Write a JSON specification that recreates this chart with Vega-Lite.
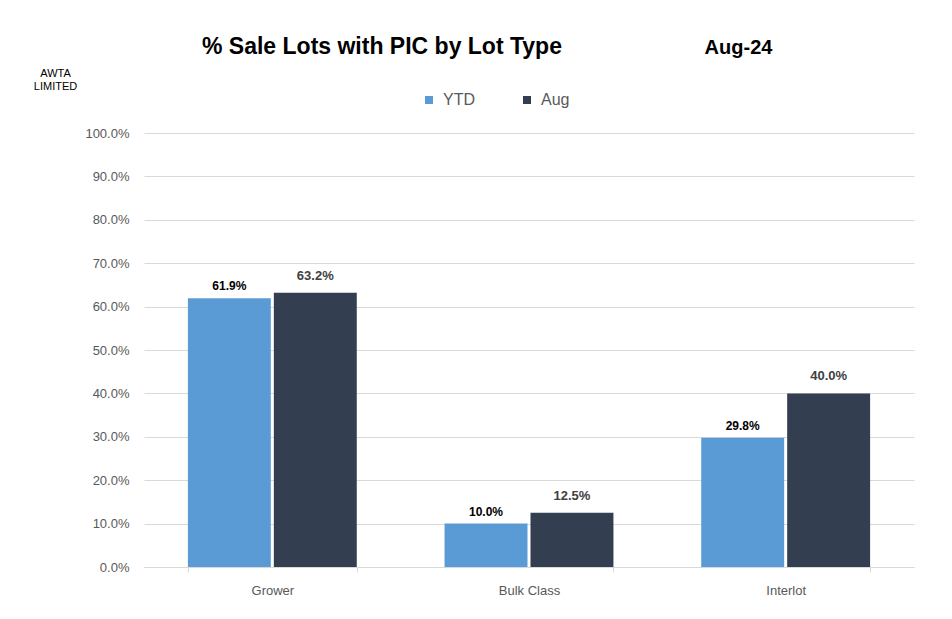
{
  "$schema": "https://vega.github.io/schema/vega-lite/v6.json",
  "autosize": {"type": "none"},
  "width": 770,
  "height": 434,
  "padding": {"left": 144, "top": 133, "right": 38, "bottom": 52},
  "background": "white",
  "config": {"font": "Liberation Sans", "view": {"stroke": null}},
  "title": {
    "text": "% Sale Lots with PIC by Lot Type",
    "anchor": "start",
    "frame": "group",
    "dx": 58,
    "offset": -40,
    "fontSize": 23,
    "fontWeight": "bold",
    "color": "#000000",
    "font": "Liberation Sans",
    "baseline": "alphabetic"
  },
  "data": {
    "values": [
      {"type": "Grower", "series": "YTD", "pct": 0.619},
      {"type": "Grower", "series": "Aug", "pct": 0.632},
      {"type": "Bulk Class", "series": "YTD", "pct": 0.100},
      {"type": "Bulk Class", "series": "Aug", "pct": 0.125},
      {"type": "Interlot", "series": "YTD", "pct": 0.298},
      {"type": "Interlot", "series": "Aug", "pct": 0.400}
    ]
  },
  "encoding": {
    "x": {
      "field": "type",
      "type": "nominal",
      "sort": ["Grower", "Bulk Class", "Interlot"],
      "scale": {"paddingInner": 0.342, "paddingOuter": 0.171},
      "axis": {
        "title": "Aug-24",
        "titleX": 594,
        "titleY": -520,
        "titleAlign": "center",
        "titleBaseline": "middle",
        "titleFontSize": 20,
        "titleFontWeight": "bold",
        "titleColor": "#000000",
        "labelAngle": 0,
        "labelFontSize": 13,
        "labelColor": "#595959",
        "labelPadding": 12,
        "domainColor": "#D9D9D9",
        "tickColor": "#D9D9D9",
        "tickSize": 5,
        "tickBand": "extent",
        "grid": false
      }
    },
    "y": {
      "field": "pct",
      "type": "quantitative",
      "scale": {"domain": [0, 1]},
      "axis": {
        "title": ["AWTA", "LIMITED"],
        "titleAngle": 0,
        "titleX": -89,
        "titleY": -66,
        "titleAlign": "center",
        "titleBaseline": "top",
        "titleFontSize": 11,
        "titleLineHeight": 13,
        "titleFontWeight": "normal",
        "titleColor": "#000000",
        "values": [0, 0.1, 0.2, 0.3, 0.4, 0.5, 0.6, 0.7, 0.8, 0.9, 1],
        "format": ".1%",
        "labelFontSize": 13,
        "labelColor": "#595959",
        "labelPadding": 15,
        "domain": false,
        "ticks": false,
        "gridColor": "#D9D9D9"
      }
    },
    "xOffset": {"field": "series", "sort": ["YTD", "Aug"], "scale": {"paddingInner": 0.035}}
  },
  "layer": [
    {
      "mark": {"type": "bar"},
      "encoding": {
        "color": {
          "field": "series",
          "type": "nominal",
          "scale": {"domain": ["YTD", "Aug"], "range": ["#5B9BD5", "#333F50"]},
          "legend": {
            "title": null,
            "orient": "none",
            "legendX": 277,
            "legendY": -41,
            "direction": "horizontal",
            "symbolType": "square",
            "symbolSize": 64,
            "labelFontSize": 16,
            "labelColor": "#595959",
            "labelOffset": 6,
            "columnPadding": 44,
            "padding": 0
          }
        }
      }
    },
    {
      "transform": [{"filter": "datum.series === 'YTD'"}],
      "mark": {"type": "text", "baseline": "bottom", "dy": -5, "fontWeight": "bold", "fontSize": 12, "color": "#000000"},
      "encoding": {"text": {"field": "pct", "type": "quantitative", "format": ".1%"}}
    },
    {
      "transform": [{"filter": "datum.series === 'Aug'"}],
      "mark": {"type": "text", "baseline": "bottom", "dy": -10, "fontWeight": "bold", "fontSize": 13, "color": "#404040"},
      "encoding": {"text": {"field": "pct", "type": "quantitative", "format": ".1%"}}
    }
  ]
}
